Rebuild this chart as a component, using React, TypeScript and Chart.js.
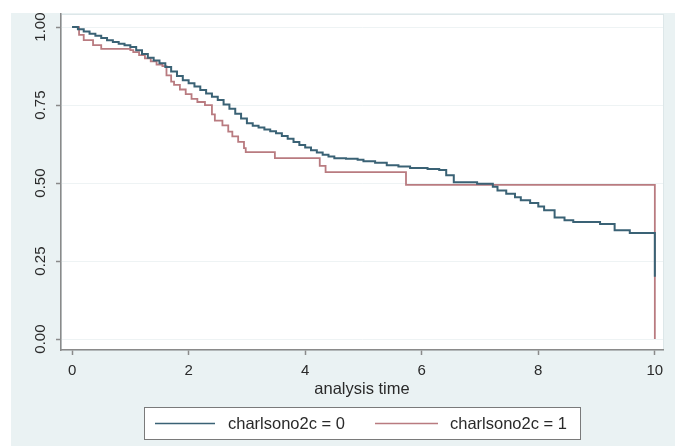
import React, { useEffect, useRef } from "react";
import { Chart, registerables } from "chart.js";

Chart.register(...registerables);

const seriesLabels = ["charlsono2c = 0", "charlsono2c = 1"];
const xTicks = [0, 2, 4, 6, 8, 10];
const yTicks = [0, 0.25, 0.5, 0.75, 1.0];

const blueTimes = [
  0, 0.1, 0.2, 0.3, 0.4, 0.5, 0.6, 0.7, 0.8, 0.9, 1.0, 1.1, 1.2, 1.3, 1.4, 1.5,
  1.6, 1.7, 1.8, 1.9, 2.0, 2.1, 2.2, 2.3, 2.4, 2.5, 2.6, 2.7, 2.8, 2.9, 3.0,
  3.1, 3.2, 3.3, 3.4, 3.5, 3.6, 3.7, 3.8, 3.9, 4.0, 4.1, 4.2, 4.3, 4.4, 4.5,
  4.7, 4.9, 5.0, 5.2, 5.4, 5.6, 5.8, 6.1, 6.3, 6.42, 6.55, 6.95, 7.22, 7.3,
  7.45, 7.6, 7.7, 7.86, 8.0, 8.1, 8.28, 8.45, 8.6, 9.06, 9.31, 9.57, 10.0, 10.0,
];
const blueSurv = [
  1.0, 0.993, 0.986, 0.979, 0.972, 0.965, 0.958, 0.952, 0.947, 0.942, 0.936, 0.926,
  0.914, 0.902, 0.893, 0.884, 0.872, 0.858, 0.843, 0.83, 0.82, 0.81, 0.798, 0.787,
  0.777, 0.766, 0.752, 0.738, 0.722, 0.707, 0.692, 0.684, 0.678, 0.672, 0.666, 0.66,
  0.651, 0.642, 0.632, 0.622, 0.614, 0.605, 0.598, 0.591, 0.585, 0.58, 0.578, 0.575,
  0.57, 0.565, 0.557, 0.553, 0.548, 0.545, 0.542, 0.525, 0.503, 0.498, 0.488, 0.476,
  0.466, 0.455, 0.445, 0.436, 0.425, 0.413, 0.39, 0.381, 0.375, 0.369, 0.349, 0.34,
  0.34, 0.2,
];

const redTimes = [
  0, 0.12, 0.2, 0.36, 0.5, 1.0, 1.05, 1.15, 1.25, 1.35, 1.45, 1.55, 1.62, 1.7,
  1.75, 1.85, 1.95, 2.05, 2.15, 2.28, 2.4, 2.45, 2.58, 2.68, 2.75, 2.85, 2.95,
  2.98, 3.48, 4.25, 4.35, 5.73, 10.0, 10.0,
];
const redSurv = [
  1.0, 0.975, 0.958, 0.942, 0.93, 0.926, 0.92, 0.91, 0.9, 0.89, 0.88, 0.875, 0.845,
  0.825, 0.815, 0.8, 0.785, 0.77, 0.76, 0.75, 0.72, 0.7, 0.685, 0.665, 0.65, 0.632,
  0.612, 0.599, 0.58, 0.555, 0.535, 0.494, 0.494, 0.0,
];

const BLUE = "#3a6275";
const RED = "#b97b80";
const BG = "#eaf2f3";

const toPoints = (ts: number[], ss: number[]) => ts.map((t, i) => ({ x: t, y: ss[i] }));

const framePlugin = {
  id: "frame",
  beforeDraw(chart: any) {
    const { ctx, width, height, chartArea } = chart;
    ctx.save();
    ctx.fillStyle = "#ffffff";
    ctx.fillRect(0, 0, width, height);
    ctx.fillStyle = BG;
    ctx.fillRect(11, 13, width - 11, height - 13);
    ctx.fillStyle = "#ffffff";
    ctx.fillRect(chartArea.left, chartArea.top, chartArea.right - chartArea.left, chartArea.bottom - chartArea.top);
    ctx.strokeStyle = "#dde7e9";
    ctx.lineWidth = 1;
    ctx.strokeRect(chartArea.left + 0.5, chartArea.top + 0.5, chartArea.right - chartArea.left, chartArea.bottom - chartArea.top);
    ctx.restore();
  },
  afterDraw(chart: any) {
    const { ctx, width } = chart;
    ctx.save();
    ctx.fillStyle = "#ffffff";
    ctx.fillRect(0, 0, width, 13);
    // legend
    const bx = 144, by = 407, bw = 436, bh = 32;
    ctx.fillStyle = "#ffffff";
    ctx.fillRect(bx, by, bw, bh);
    ctx.strokeStyle = "#7a7a7a";
    ctx.lineWidth = 1;
    ctx.strokeRect(bx + 0.5, by + 0.5, bw, bh);
    const cy = by + bh / 2 + 0.5;
    const entries = [
      { x0: 155, x1: 215, tx: 228, color: BLUE, label: seriesLabels[0] },
      { x0: 375, x1: 438, tx: 450, color: RED, label: seriesLabels[1] },
    ];
    ctx.font = "16.5px 'Liberation Sans', Arial, sans-serif";
    ctx.textBaseline = "middle";
    ctx.textAlign = "left";
    for (const e of entries) {
      ctx.strokeStyle = e.color;
      ctx.lineWidth = 1.5;
      ctx.beginPath();
      ctx.moveTo(e.x0, cy);
      ctx.lineTo(e.x1, cy);
      ctx.stroke();
      ctx.fillStyle = "#2a2a2a";
      ctx.fillText(e.label, e.tx, cy + 1);
    }
    ctx.restore();
  },
};

export default function App() {
  const ref = useRef<HTMLCanvasElement | null>(null);
  useEffect(() => {
    document.body.style.margin = "0";
    if (!ref.current) return;
    const chart = new Chart(ref.current, {
      type: "line",
      data: {
        datasets: [
          {
            label: seriesLabels[0],
            data: toPoints(blueTimes, blueSurv),
            borderColor: BLUE,
            borderWidth: 2,
            pointRadius: 0,
            stepped: "before",
            fill: false,
          },
          {
            label: seriesLabels[1],
            data: toPoints(redTimes, redSurv),
            borderColor: RED,
            borderWidth: 1.8,
            pointRadius: 0,
            stepped: "before",
            fill: false,
          },
        ],
      },
      options: {
        responsive: false,
        animation: false,
        devicePixelRatio: 1,
        layout: { padding: { left: 0, top: 14, right: 12, bottom: 0 } },
        plugins: { legend: { display: false }, tooltip: { enabled: false } },
        scales: {
          x: {
            type: "linear",
            min: -0.19,
            max: 10.14,
            afterBuildTicks: (s: any) => {
              s.ticks = xTicks.map((v) => ({ value: v }));
            },
            afterFit: (s: any) => {
              s.height = 96;
            },
            border: { color: "#8a8a8a", width: 1.5 },
            grid: { drawOnChartArea: false, drawTicks: true, tickLength: 5, tickColor: "#8a8a8a", tickWidth: 1.5 },
            ticks: {
              padding: 7,
              maxRotation: 0,
              color: "#2a2a2a",
              font: { family: "'Liberation Sans', Arial, sans-serif", size: 15 },
              callback: (v: any) => String(v),
            },
            title: {
              display: true,
              text: "analysis time",
              color: "#2a2a2a",
              font: { family: "'Liberation Sans', Arial, sans-serif", size: 16.5 },
              padding: { top: 0, bottom: 47 },
            },
          },
          y: {
            type: "linear",
            min: -0.035,
            max: 1.042,
            afterBuildTicks: (s: any) => {
              s.ticks = yTicks.map((v) => ({ value: v }));
            },
            afterFit: (s: any) => {
              s.width = 61;
            },
            border: { color: "#8a8a8a", width: 1.5 },
            grid: { drawOnChartArea: true, color: "#eef3f4", lineWidth: 1, drawTicks: true, tickLength: 5, tickColor: "#8a8a8a", tickWidth: 1.5 },
            ticks: {
              minRotation: 90,
              maxRotation: 90,
              crossAlign: "center",
              padding: 1,
              color: "#2a2a2a",
              font: { family: "'Liberation Sans', Arial, sans-serif", size: 15 },
              callback: (v: any) => Number(v).toFixed(2),
            },
          },
        },
      },
      plugins: [framePlugin],
    });
    return () => chart.destroy();
  }, []);
  return (
    <div style={{ width: 675, height: 446 }}>
      <canvas ref={ref} width={675} height={446} />
    </div>
  );
}
